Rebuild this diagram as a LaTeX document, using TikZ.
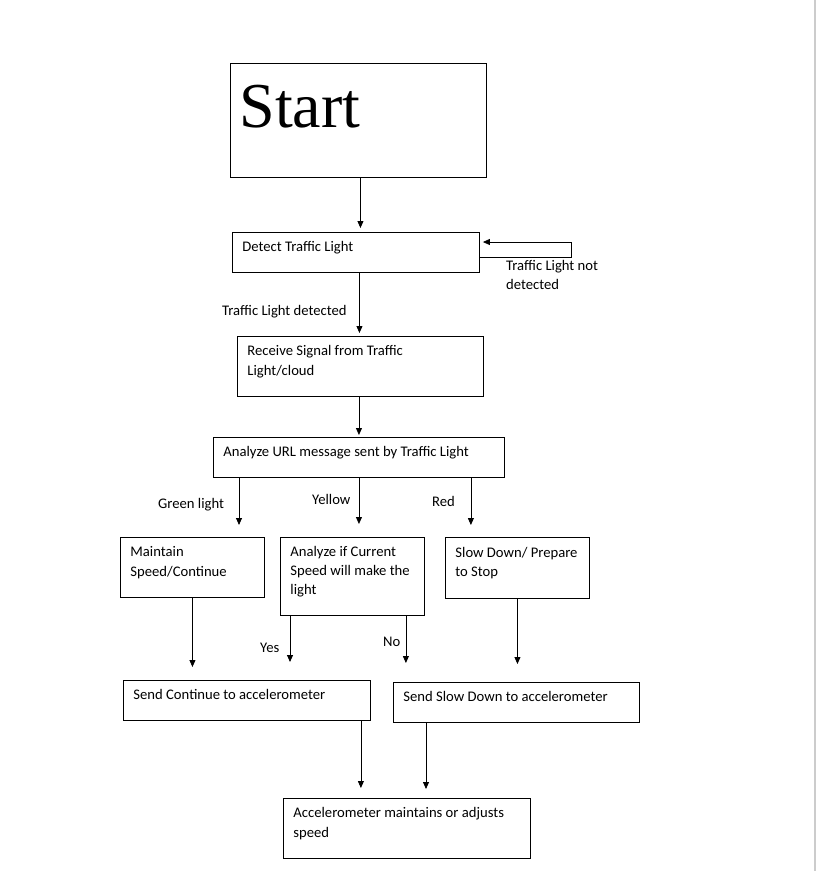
\documentclass[tikz,border=0pt]{standalone}
\usepackage{fontspec}
\setmainfont{Carlito}
\newfontfamily\startfont{Liberation Serif}
\usetikzlibrary{arrows.meta,calc}

\begin{document}
\begin{tikzpicture}[
  x=1pt, y=-1pt,
  font=\fontsize{14.65}{19.4}\selectfont,
  box/.style={draw, line width=0.9pt, anchor=north west, inner xsep=10pt,
              inner ysep=0pt, align=left,
              execute at begin node={\spaceskip=0pt\xspaceskip=0pt%
                \hyphenpenalty=10000\exhyphenpenalty=10000},
              execute at end node={\rule[-12pt]{0pt}{12pt}}},
  startbox/.style={draw, line width=0.9pt, anchor=north west, inner xsep=9pt,
                   inner ysep=0pt, align=left},
  lbl/.style={inner sep=0pt, anchor=base west},
  arrow/.style={-{Triangle[length=7pt,width=6pt]}, line width=0.8pt}
]
\useasboundingbox (0,0) rectangle (817,871);
\draw[gray!40, line width=2pt] (815,0) -- (815,871);

\node[startbox, text width=238pt, minimum height=114pt] (start) at (230,63)
  {\startfont\fontsize{64}{64}\selectfont Start\rule[-28pt]{0pt}{28pt}};
\node[box, text width=227pt, minimum height=40pt] (detect) at (232,232)
  {Detect Traffic Light};
\node[box, text width=226pt, minimum height=60pt] (receive) at (237,336)
  {Receive Signal from Traffic\\Light/cloud};
\node[box, text width=271pt, minimum height=40pt] (url) at (213,437)
  {Analyze URL message sent by Traffic Light};
\node[box, text width=124pt, minimum height=60pt] (maintain) at (120,537)
  {Maintain\\Speed/Continue};
\node[box, text width=124pt, minimum height=78pt] (check) at (280,537)
  {Analyze~if~Current\\Speed~will~make~the\\light};
\node[box, text width=124pt, minimum height=61pt] (slow) at (445,537)
  {Slow~Down/~Prepare\\to Stop};
\node[box, text width=227pt, minimum height=40pt] (sendgo) at (123,680)
  {Send Continue to accelerometer};
\node[box, text width=226pt, minimum height=40pt] (sendslow) at (393,682)
  {Send Slow Down to accelerometer};
\node[box, text width=227pt, minimum height=60pt] (accel) at (283,798)
  {Accelerometer maintains or adjusts\\speed};

% labels
\node[lbl] (detected) at (222,315.5) {Traffic Light detected};
\node[inner sep=0pt, anchor=north west, align=left] (notdetected) at (506,260)
  {Traffic Light not\\detected};
\node[lbl] (green) at (158,508.5) {Green light};
\node[lbl] (yellow) at (312,504.5) {Yellow};
\node[lbl] (red) at (432,506.5) {Red};
\node[lbl] (yes) at (260,652.5) {Yes};
\node[lbl] (no) at (383,646.5) {No};

\draw[arrow, shorten >=4pt] ([xshift=2pt]start.south)
  -- ([xshift=2pt]start.south |- detect.north);
\draw[arrow] ([yshift=-25pt]detect.north east) -- ++(91,0)
  |- ([xshift=3pt,yshift=-10pt]detect.north east);
\draw[arrow, shorten >=3pt] ([xshift=-1pt]receive.north |- detect.south)
  -- ([xshift=-1pt]receive.north);
\draw[arrow, shorten >=2pt] (url.north |- receive.south) -- (url.north);
\draw[arrow, shorten >=12pt] ([xshift=26pt]url.south west)
  -- ([xshift=26pt]url.south west |- maintain.north);
\draw[arrow, shorten >=13pt] (url.south) -- (url.south |- check.north);
\draw[arrow, shorten >=12pt] ([xshift=-34pt]url.south east)
  -- ([xshift=-34pt]url.south east |- slow.north);
\draw[arrow, shorten >=13pt] (maintain.south) -- (maintain.south |- sendgo.north);
\draw[arrow, shorten >=18pt] ([xshift=10pt]check.south west)
  -- ([xshift=10pt]check.south west |- sendgo.north);
\draw[arrow, shorten >=19pt] ([xshift=-19pt]check.south east)
  -- ([xshift=-19pt]check.south east |- sendslow.north);
\draw[arrow, shorten >=18pt] (slow.south) -- (slow.south |- sendslow.north);
\draw[arrow, shorten >=10pt] ([xshift=-10pt]sendgo.south east)
  -- ([xshift=-10pt]sendgo.south east |- accel.north);
\draw[arrow, shorten >=9pt] ([xshift=33pt]sendslow.south west)
  -- ([xshift=33pt]sendslow.south west |- accel.north);
\end{tikzpicture}
\end{document}
